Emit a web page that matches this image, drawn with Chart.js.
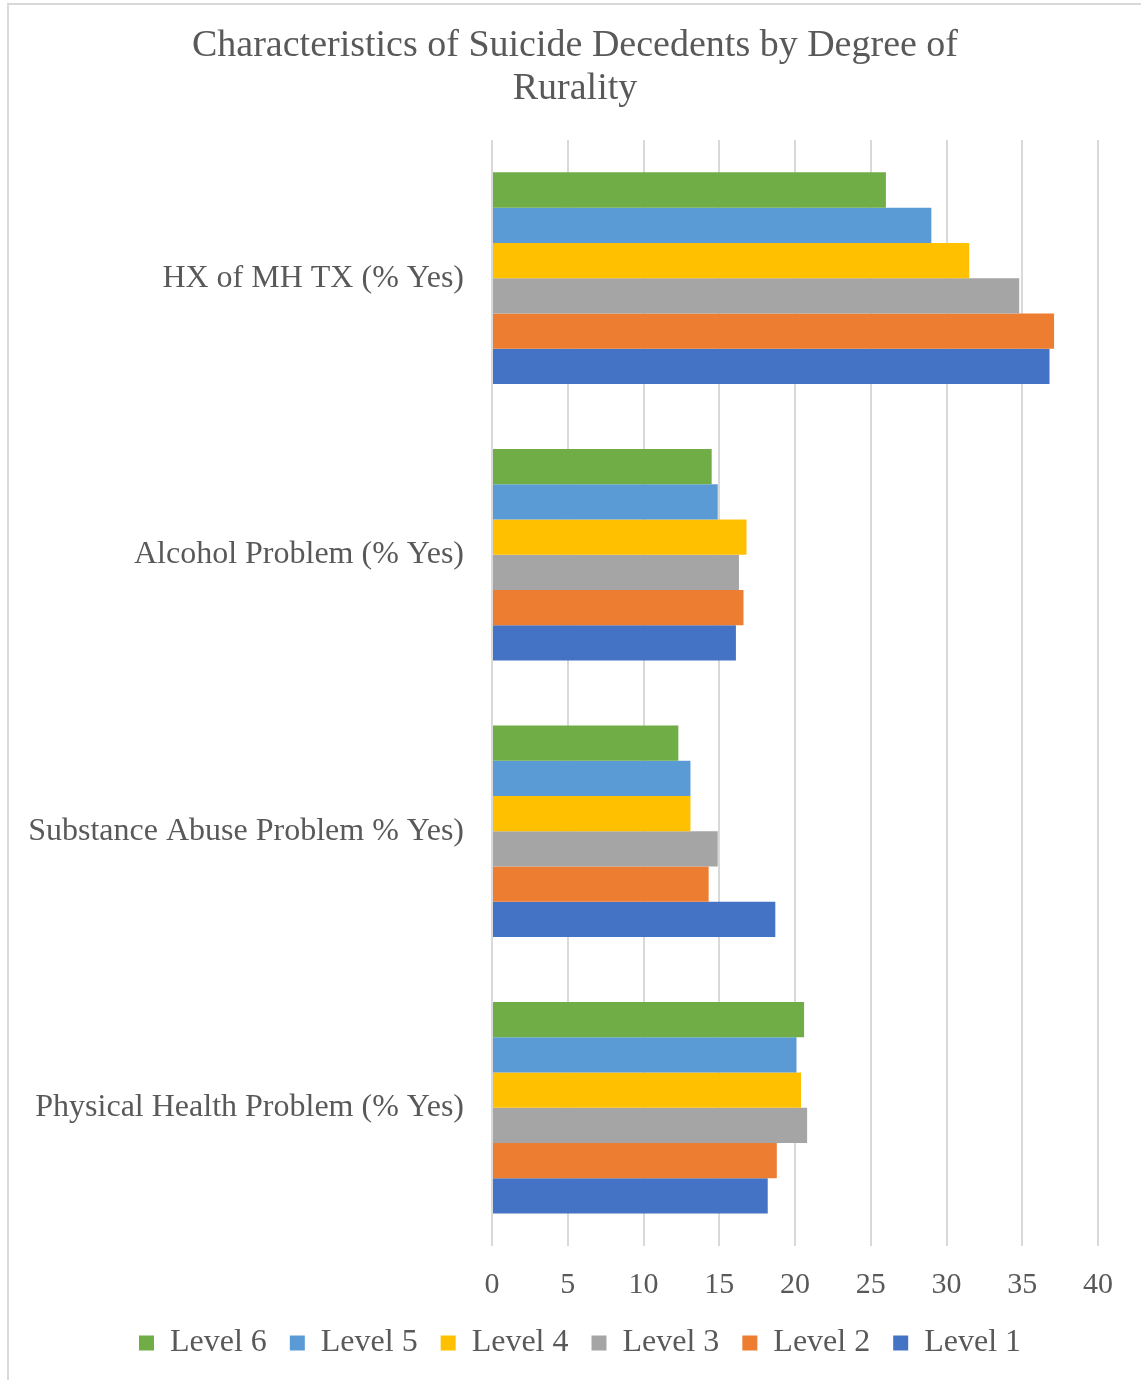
<!DOCTYPE html>
<html>
<head>
<meta charset="utf-8">
<script src="https://cdn.jsdelivr.net/npm/chart.js@4"></script>
<style>
  html, body { margin: 0; padding: 0; background: #fff; overflow: hidden; }
  #frame { position: absolute; left: 7px; top: 3px; width: 1200px; height: 1450px; border: 2px solid #d9d9d9; box-sizing: border-box; }
  #wrap { position: absolute; left: 9px; top: 5px; width: 1132px; height: 1375px; }
</style>
</head>
<body>
<div id="frame"></div>
<div id="wrap"><canvas id="chart"></canvas></div>
<script>
// Datos
const categories = ['HX of MH TX (% Yes)', 'Alcohol Problem (% Yes)', 'Substance Abuse Problem % Yes)', 'Physical Health Problem (% Yes)'];
const level6 = [26.0, 14.5, 12.3, 20.6];
const level5 = [29.0, 14.9, 13.1, 20.1];
const level4 = [31.5, 16.8, 13.1, 20.4];
const level3 = [34.8, 16.3, 14.9, 20.8];
const level2 = [37.1, 16.6, 14.3, 18.8];
const level1 = [36.8, 16.1, 18.7, 18.2];
const seriesNames = ['Level 6', 'Level 5', 'Level 4', 'Level 3', 'Level 2', 'Level 1'];
const seriesColors = ['#70AD47', '#5B9BD5', '#FFC000', '#A5A5A5', '#ED7D31', '#4472C4'];
const seriesValues = [level6, level5, level4, level3, level2, level1];

const textColor = '#595959';
const serif = "'Liberation Serif', 'DejaVu Serif', serif";

// Centrar titulo y leyenda sobre todo el lienzo
const centerBoxes = {
    id: 'centerBoxes',
    afterLayout(chart) {
        if (chart.titleBlock) {
            chart.titleBlock.left = 0;
            chart.titleBlock.right = chart.width;
            chart.titleBlock.width = chart.width;
        }
        if (chart.legend) {
            chart.legend.left = 10;
            chart.legend.right = chart.width;
            chart.legend.width = chart.width - 10;
        }
    }
};

const ctx = document.getElementById('chart').getContext('2d');
const chart = new Chart(ctx, {
    type: 'bar',
    data: {
        labels: categories,
        datasets: seriesNames.map((name, i) => ({
            label: name,
            data: seriesValues[i],
            backgroundColor: seriesColors[i],
            borderWidth: 0,
            barPercentage: 1,
            categoryPercentage: 0.765
        }))
    },
    options: {
        indexAxis: 'y',
        responsive: true,
        maintainAspectRatio: false,
        animation: false,
        layout: { padding: { left: 0, right: 43, top: 0, bottom: 11 } },
        plugins: {
            title: {
                display: true,
                text: ['Characteristics of Suicide Decedents by Degree of', 'Rurality'],
                color: textColor,
                font: { family: serif, size: 38, weight: 'normal', lineHeight: 1.13 },
                padding: { top: 20, bottom: 29 }
            },
            legend: {
                position: 'bottom',
                labels: {
                    color: textColor,
                    font: { family: serif, size: 32 },
                    boxWidth: 15,
                    boxHeight: 15,
                    padding: 23
                }
            },
            tooltip: { enabled: false }
        },
        scales: {
            x: {
                min: 0,
                max: 40,
                ticks: { stepSize: 5, color: textColor, font: { family: serif, size: 30 }, padding: 21 },
                grid: { color: '#d9d9d9', lineWidth: 2, drawTicks: false },
                border: { display: false },
                afterFit: (scale) => { scale.height = 58; }
            },
            y: {
                ticks: { color: textColor, font: { family: serif, size: 32 }, padding: 28 },
                grid: { display: false, drawTicks: false },
                border: { display: false },
                // ancho fijo para que el eje quede en x=492
                afterFit: (scale) => { scale.width = 492 - 9; }
            }
        }
    },
    plugins: [centerBoxes]
});
</script>
</body>
</html>
